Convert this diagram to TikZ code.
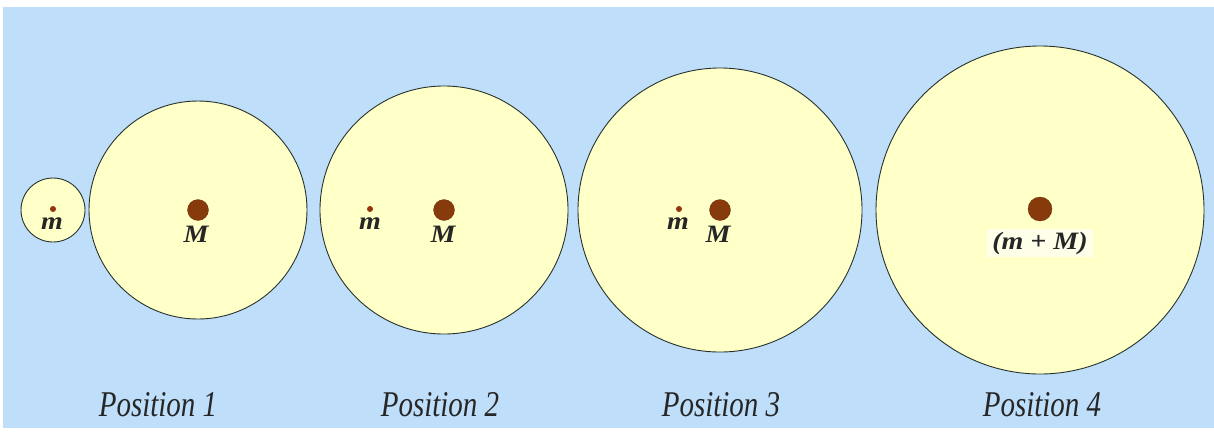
\documentclass[tikz,border=0pt]{standalone}
\usepackage{fontspec}
\setmainfont{Liberation Serif}[ItalicFont={Liberation Serif Italic},BoldFont={Liberation Serif Bold},BoldItalicFont={Liberation Serif Bold Italic}]
\definecolor{bgblue}{RGB}{190,222,250}
\definecolor{pale}{RGB}{255,255,200}
\definecolor{dotbrown}{RGB}{135,58,12}
\definecolor{rim}{RGB}{40,50,45}
\tikzset{
  sphere/.style={circle, draw=rim, line width=0.9pt, fill=pale, inner sep=0pt},
  bigdot/.style={circle, fill=dotbrown, draw=dotbrown!80!black, line width=0.3pt, inner sep=0pt, minimum size=21pt},
  smalldot/.style={circle, fill=dotbrown!90!red, inner sep=0pt, minimum size=6pt},
  mass/.style={font=\fontsize{25}{28}\selectfont\bfseries\itshape, text=black!85, inner sep=1pt, xscale=1.12, transform shape},
  poslabel/.style={font=\fontsize{29}{33}\selectfont\itshape, text=black!85, yscale=1.25, transform shape}
}
\begin{document}
\begin{tikzpicture}[x=1pt,y=-1pt]
\useasboundingbox (0,0) rectangle (1214,432);
\fill[white] (0,0) rectangle (1214,432);
\fill[bgblue] (3,7) rectangle (1214,428);
% spheres
\node[sphere, minimum size=64pt] (s0) at (53,210) {};
\node[sphere, minimum size=218pt] (s1) at (198,210) {};
\node[sphere, minimum size=248pt] (s2) at (444,210) {};
\node[sphere, minimum size=284pt] (s3) at (720,210) {};
\node[sphere, minimum size=328pt] (s4) at (1040,210) {};
% Position 1
\node[smalldot] (m1) at (53,209) {};
\node[mass] (lm1) at (52,224) {m};
\node[bigdot] (M1) at (198,210) {};
\node[mass] (lM1) at (196,234) {M};
% Position 2
\node[smalldot] (m2) at (370,209) {};
\node[mass] (lm2) at (370,224) {m};
\node[bigdot] (M2) at (444,210) {};
\node[mass] (lM2) at (443,234) {M};
% Position 3
\node[smalldot] (m3) at (679,209) {};
\node[mass] (lm3) at (678,224) {m};
\node[bigdot] (M3) at (720,210) {};
\node[mass] (lM3) at (718,234) {M};
% Position 4
\node[bigdot, minimum size=24pt] (M4) at (1040,209) {};
\node[mass, fill=white!60!pale, inner xsep=5pt, inner ysep=3pt] (lM4) at (1040,243) {(m + M)};
% labels
\node[poslabel] (p1) at (158,405) {Position 1};
\node[poslabel] (p2) at (440,405) {Position 2};
\node[poslabel] (p3) at (721,405) {Position 3};
\node[poslabel] (p4) at (1042,405) {Position 4};
\end{tikzpicture}
\end{document}
